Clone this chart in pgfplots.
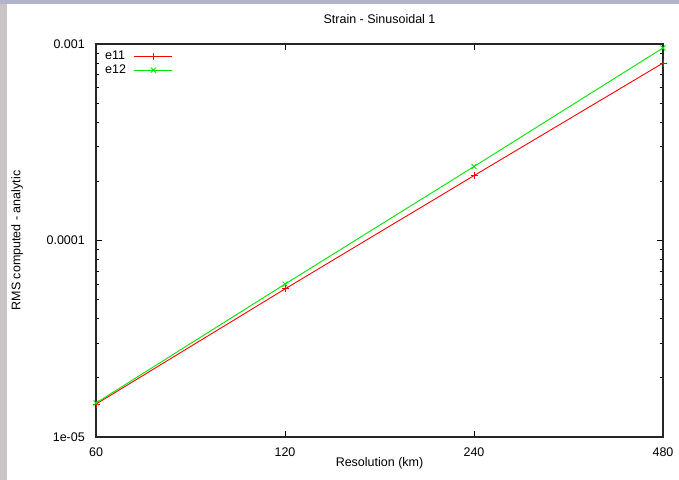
\documentclass[border=0pt]{standalone}
\usepackage{pgfplots}
\pgfplotsset{compat=1.18}
\usepackage{fontspec}
\setmainfont{Liberation Sans}
\definecolor{bgblue}{RGB}{178,180,206}
\definecolor{bggrey}{RGB}{200,196,200}
\definecolor{gred}{RGB}{255,0,0}
\definecolor{ggreen}{RGB}{0,230,0}
\begin{document}
\fontsize{12.5bp}{15bp}\selectfont
\begin{tikzpicture}
\useasboundingbox (-96bp,-43bp) rectangle (583bp,437bp);
\fill[bggrey] (-96bp,-43bp) rectangle (583bp,437bp);
\fill[bgblue] (-96bp,433bp) rectangle (583bp,437bp);
\fill[white] (-89bp,-43bp) rectangle (583bp,433bp);
\begin{axis}[
  at={(0,0)}, anchor=south west,
  scale only axis, width=567bp, height=393bp,
  xmode=log, log basis x=2, ymode=log,
  xmin=60, xmax=480, ymin=1e-5, ymax=1e-3,
  xtick={60,120,240,480}, xticklabels={60,120,240,480},
  ytick={1e-5,1e-4,1e-3}, yticklabels={1e-05,0.0001,0.001},
  xminorticks=false,
  tick align=inside,
  major tick length=6bp, minor tick length=3bp,
  every tick/.style={black, line width=0.8bp},
  axis line style={black!85, line width=1.2bp},
  tick label style={font=\fontsize{12.5bp}{15bp}\selectfont, inner sep=0pt},
  yticklabel style={anchor=east, xshift=-11bp},
  xticklabel style={anchor=center, yshift=-15bp},
  title={Strain - Sinusoidal 1},
  title style={at={(axis description cs:0.5,1.0483)}, anchor=center, font=\fontsize{12.5bp}{15bp}\selectfont},
  xlabel={Resolution (km)},
  xlabel style={at={(axis description cs:0.5,-0.0675)}, anchor=center, font=\fontsize{12.5bp}{15bp}\selectfont},
  ylabel={RMS computed - analytic},
  ylabel style={at={(axis description cs:-0.1393,0.5)}, anchor=center, rotate=0, font=\fontsize{12.5bp}{15bp}\selectfont},
  legend plot pos=right,
  legend cell align=left,
  legend style={draw=none, fill=none, at={(axis description cs:0.007,0.992)}, anchor=north west,
    font=\fontsize{12.5bp}{14bp}\selectfont, row sep=-1bp, column sep=6bp},
  legend image code/.code={\draw[#1, mark repeat=2, mark phase=2] plot coordinates {(0bp,0bp) (19bp,0bp) (38bp,0bp)};},
]
\addplot[gred, line width=0.9bp, mark=+, mark size=3.5bp, mark options={line width=0.9bp}]
  coordinates {(60,1.47e-5) (120,5.67e-5) (240,2.14e-4) (480,8.0e-4)};
\addlegendentry{e11}
\addplot[ggreen, line width=0.9bp, mark=x, mark size=3.5bp, mark options={line width=0.9bp}]
  coordinates {(60,1.49e-5) (120,6.0e-5) (240,2.38e-4) (480,9.55e-4)};
\addlegendentry{e12}
\end{axis}
\end{tikzpicture}
\end{document}
